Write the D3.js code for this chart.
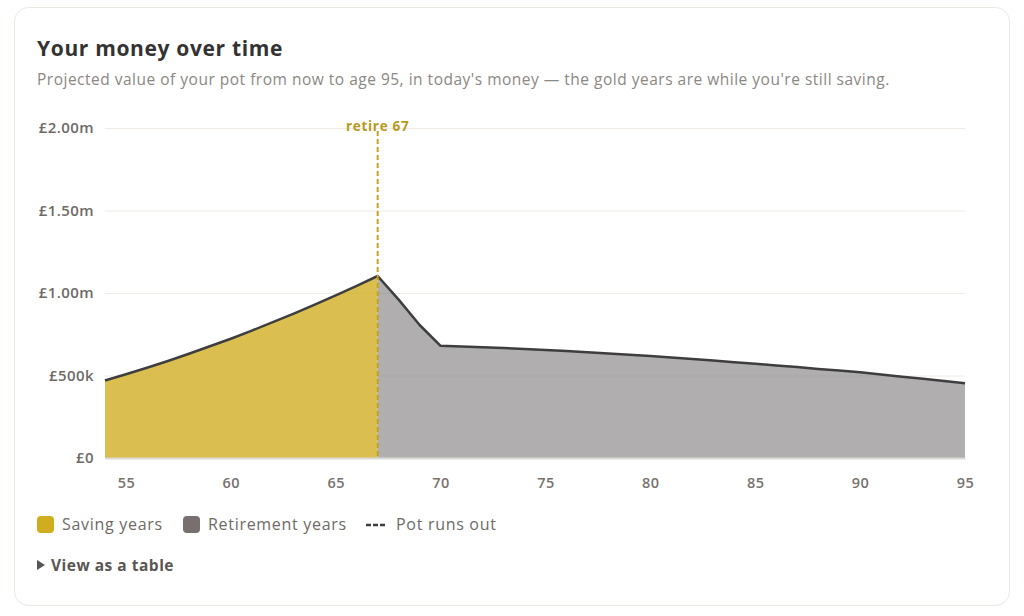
<!DOCTYPE html>
<html>
<head>
<meta charset="utf-8">
<script src="https://cdn.jsdelivr.net/npm/d3@7"></script>
<style>
  body { margin: 0; background: #fff; }
  svg text { font-family: "Open Sans", sans-serif; }
</style>
</head>
<body>
<div id="chart"></div>
<script>
// ages from now (54) to 95, pot value in £
const ages = d3.range(54, 96);
const potValues = [
  470000, 508000, 547000, 588000, 632000, 677000, 723000, 772000, 823000, 875000,
  929000, 985000, 1043000, 1103000,
  960000, 806000, 680000,
  676000, 671000, 666000, 661000, 655000, 648000, 641000, 634000, 626000,
  618000, 609000, 600000, 591000, 581000, 571000, 561000, 551000, 540000, 530000,
  519000, 506000, 493000, 480000, 467000, 453000
];
const retireAge = 67;
const xTicks = [55, 60, 65, 70, 75, 80, 85, 90, 95];
const yTicks = [0, 500000, 1000000, 1500000, 2000000];
const yTickLabels = ["£0", "£500k", "£1.00m", "£1.50m", "£2.00m"];
const legendItems = ["Saving years", "Retirement years", "Pot runs out"];

const data = ages.map((a, i) => ({ age: a, value: potValues[i] }));

const width = 1024, height = 616;
const margin = { top: 128, left: 105, right: 59, bottom: 158 };
const plotW = width - margin.left - margin.right;
const plotH = height - margin.top - margin.bottom;

const svg = d3.select("#chart").append("svg")
  .attr("width", width)
  .attr("height", height);

// card
svg.append("rect")
  .attr("x", 14.5).attr("y", 7.5)
  .attr("width", 995).attr("height", 598)
  .attr("rx", 14)
  .attr("fill", "#fff")
  .attr("stroke", "#ebe8e1");

svg.append("text")
  .attr("x", 37).attr("y", 56)
  .style("font-size", "21px")
  .style("font-weight", 700)
  .style("letter-spacing", "0.65px")
  .style("fill", "#333")
  .text("Your money over time");

svg.append("text")
  .attr("x", 37).attr("y", 85)
  .style("font-size", "15.5px")
  .style("letter-spacing", "0.5px")
  .style("fill", "#8c8783")
  .text("Projected value of your pot from now to age 95, in today's money — the gold years are while you're still saving.");

const g = svg.append("g")
  .attr("transform", `translate(${margin.left},${margin.top})`);

const x = d3.scaleLinear().domain([54, 95]).range([0, plotW]);
const y = d3.scaleLinear().domain([0, 2000000]).range([plotH, 0]);

// y axis + gridlines
const yAxis = g.append("g")
  .call(d3.axisLeft(y)
    .tickValues(yTicks)
    .tickSize(-plotW)
    .tickPadding(11)
    .tickFormat((d, i) => yTickLabels[i]));
yAxis.select(".domain").remove();
yAxis.selectAll("line").attr("stroke", "#efece5");
yAxis.selectAll("text")
  .style("font-size", "15px")
  .style("font-weight", 600)
  .style("letter-spacing", "0.4px")
  .style("fill", "#6e6a66");

const area = d3.area()
  .x(d => x(d.age))
  .y0(y(0))
  .y1(d => y(d.value));

g.append("path")
  .datum(data.filter(d => d.age <= retireAge))
  .attr("fill", "#cfad1f")
  .attr("fill-opacity", 0.78)
  .attr("d", area);

g.append("path")
  .datum(data.filter(d => d.age >= retireAge))
  .attr("fill", "#777375")
  .attr("fill-opacity", 0.58)
  .attr("d", area);

// x axis
const xAxis = g.append("g")
  .attr("transform", `translate(0,${plotH})`)
  .call(d3.axisBottom(x).tickValues(xTicks).tickSize(0).tickPadding(20));
xAxis.select(".domain").attr("stroke", "#dcdad4").attr("stroke-width", 2);
xAxis.selectAll("text")
  .style("font-size", "14.5px")
  .style("font-weight", 600)
  .style("letter-spacing", "0.5px")
  .style("fill", "#77726e");

const line = d3.line()
  .x(d => x(d.age))
  .y(d => y(d.value));

g.append("path")
  .datum(data)
  .attr("fill", "none")
  .attr("stroke", "#3e3e3e")
  .attr("stroke-width", 2.5)
  .attr("stroke-linejoin", "round")
  .attr("d", line);

// retirement marker
g.append("line")
  .attr("x1", x(retireAge)).attr("x2", x(retireAge))
  .attr("y1", y(2000000) + 3).attr("y2", plotH)
  .attr("stroke", "#c4a11e")
  .attr("stroke-width", 2)
  .attr("stroke-dasharray", "5,3");

g.append("text")
  .attr("x", x(retireAge)).attr("y", y(2000000) + 3)
  .attr("text-anchor", "middle")
  .style("font-size", "13.5px")
  .style("font-weight", 700)
  .style("letter-spacing", "0.7px")
  .style("fill", "#b8991b")
  .text(`retire ${retireAge}`);

// legend
const legend = svg.append("g").attr("transform", "translate(37,516)");
const legendFont = sel => sel
  .style("font-size", "16px")
  .style("letter-spacing", "0.7px")
  .style("fill", "#6e6a66");
legend.append("rect")
  .attr("width", 17).attr("height", 17).attr("rx", 4)
  .attr("fill", "#cfad1f");
legend.append("text")
  .attr("x", 25).attr("y", 14)
  .call(legendFont)
  .text(legendItems[0]);
legend.append("rect")
  .attr("x", 146)
  .attr("width", 17).attr("height", 17).attr("rx", 4)
  .attr("fill", "#77706f");
legend.append("text")
  .attr("x", 171).attr("y", 14)
  .call(legendFont)
  .text(legendItems[1]);
legend.append("line")
  .attr("x1", 329).attr("x2", 350)
  .attr("y1", 9).attr("y2", 9)
  .attr("stroke", "#3e3e3e")
  .attr("stroke-width", 2.5)
  .attr("stroke-dasharray", "5,2");
legend.append("text")
  .attr("x", 359).attr("y", 14)
  .call(legendFont)
  .text(legendItems[2]);

// table toggle
svg.append("path")
  .attr("d", "M37,560 L45,565 L37,570 Z")
  .attr("fill", "#555");
svg.append("text")
  .attr("x", 51).attr("y", 571)
  .style("font-size", "15.5px")
  .style("font-weight", 700)
  .style("letter-spacing", "0.5px")
  .style("fill", "#5a5652")
  .text("View as a table");
</script>
</body>
</html>
